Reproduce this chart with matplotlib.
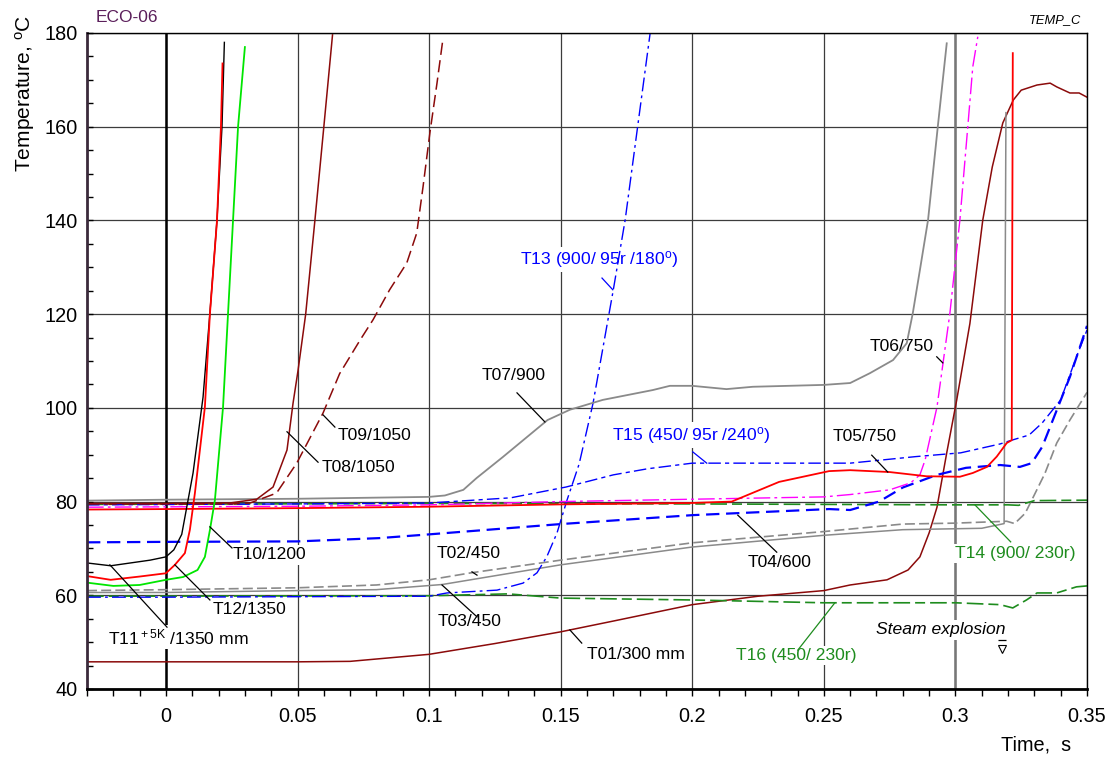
import matplotlib
matplotlib.use("Agg")
import matplotlib.pyplot as plt
from matplotlib import font_manager
from matplotlib.ticker import MultipleLocator, FuncFormatter

# ---------------------------------------------------------------- fonts
_names = {f.name for f in font_manager.fontManager.ttflist}
if "Liberation Sans Narrow" in _names:
    NARROW, K = "Liberation Sans Narrow", 1.0
else:
    NARROW, K = "Liberation Sans", 0.84
REG = "Liberation Sans" if "Liberation Sans" in _names else "DejaVu Sans"

plt.rcParams["font.family"] = [NARROW, "DejaVu Sans"]
plt.rcParams["mathtext.fontset"] = "custom"
plt.rcParams["mathtext.rm"] = NARROW
plt.rcParams["mathtext.it"] = NARROW + ":italic"

# ---------------------------------------------------------------- data (time s, temperature °C)
T01_t = [-0.03, 0.0, 0.05, 0.07, 0.1, 0.125, 0.15, 0.17, 0.2, 0.225, 0.25, 0.26, 0.274, 0.282,
         0.2865, 0.29, 0.293, 0.2967, 0.3005, 0.3055, 0.3104, 0.314, 0.318, 0.322, 0.325, 0.331,
         0.336, 0.3385, 0.3435, 0.347, 0.35]
T01_v = [45.8, 45.8, 45.8, 45.9, 47.4, 49.7, 52.2, 54.5, 58.0, 59.8, 61.0, 62.2, 63.3, 65.4,
         68.2, 73.3, 78.8, 90.4, 101.7, 118.0, 140.1, 151.4, 160.8, 165.7, 167.8, 168.9,
         169.3, 168.5, 167.2, 167.2, 166.3]

T02_t = [-0.03, 0.0, 0.05, 0.08, 0.1, 0.116, 0.15, 0.2, 0.25, 0.28, 0.3, 0.3195, 0.3225,
         0.3265, 0.329, 0.334, 0.3385, 0.3435, 0.35]
T02_v = [61.0, 61.2, 61.6, 62.2, 63.3, 64.8, 67.5, 71.2, 73.6, 75.2, 75.4, 75.8, 75.3,
         77.5, 80.3, 86.0, 92.5, 97.4, 103.3]

T03_t = [-0.03, 0.0, 0.05, 0.08, 0.105, 0.15, 0.2, 0.25, 0.28, 0.31, 0.3185, 0.3192]
T03_v = [60.6, 60.6, 61.0, 61.2, 62.3, 66.5, 70.3, 72.8, 74.0, 74.3, 75.3, 163.0]

T04_t = [-0.03, 0.0, 0.05, 0.081, 0.1, 0.15, 0.2, 0.252, 0.26, 0.271, 0.28, 0.293, 0.304,
         0.317, 0.3245, 0.329, 0.333, 0.3385, 0.3435, 0.35]
T04_v = [71.3, 71.4, 71.5, 72.2, 73.0, 75.2, 77.1, 78.4, 78.2, 80.0, 83.0, 85.7, 87.2,
         87.8, 87.4, 88.2, 91.7, 99.5, 106.6, 117.5]

T05_t = [-0.03, 0.0, 0.05, 0.1, 0.15, 0.2, 0.215, 0.233, 0.252, 0.26, 0.275, 0.289, 0.3017,
         0.3066, 0.312, 0.3157, 0.3195, 0.3214, 0.3218]
T05_v = [78.3, 78.4, 78.6, 78.9, 79.4, 79.7, 80.0, 84.2, 86.5, 86.7, 86.3, 85.4, 85.3,
         86.1, 87.4, 89.6, 92.5, 93.1, 175.7]

T06_t = [-0.03, 0.05, 0.1, 0.15, 0.2, 0.25, 0.26, 0.275, 0.283, 0.2865, 0.2885, 0.293,
         0.2979, 0.3017, 0.3047, 0.3066, 0.3085]
T06_v = [78.8, 79.0, 79.3, 80.0, 80.5, 81.0, 81.5, 82.5, 84.0, 85.7, 88.9, 100.2,
         120.2, 140.1, 160.0, 172.8, 179.2]

T07_t = [-0.03, 0.0, 0.05, 0.1, 0.106, 0.113, 0.118, 0.128, 0.145, 0.1535, 0.166, 0.185,
         0.1915, 0.2, 0.213, 0.223, 0.25, 0.26, 0.2675, 0.2763, 0.2815, 0.2838, 0.2865,
         0.2896, 0.2933, 0.2967]
T07_v = [80.2, 80.4, 80.6, 81.0, 81.3, 82.5, 85.0, 89.5, 97.4, 99.6, 101.7, 103.8,
         104.7, 104.7, 104.0, 104.5, 104.9, 105.3, 107.4, 110.2, 113.8, 120.2, 129.4,
         140.1, 160.0, 177.8]

T08_t = [-0.03, 0.0, 0.0243, 0.0345, 0.0407, 0.046, 0.0483, 0.0502, 0.0531, 0.0566, 0.06, 0.0633]
T08_v = [79.6, 79.6, 79.7, 80.5, 83.1, 91.0, 101.0, 108.0, 120.0, 140.0, 160.0, 179.6]

T09_t = [-0.03, 0.0, 0.025, 0.032, 0.042, 0.0497, 0.0597, 0.066, 0.0737, 0.0787, 0.085,
         0.0915, 0.0953, 0.0977, 0.1003, 0.103, 0.1052]
T09_v = [79.5, 79.5, 79.5, 79.7, 81.8, 88.2, 98.9, 107.3, 114.4, 118.8, 125.2,
         130.9, 137.3, 147.2, 158.7, 169.3, 178.5]

T10_t = [-0.03, -0.02, -0.01, 0.0, 0.0065, 0.012, 0.0148, 0.0167, 0.0186, 0.0217, 0.0236,
         0.0255, 0.0274, 0.030]
T10_v = [62.7, 62.0, 62.2, 63.3, 63.9, 65.4, 68.2, 73.9, 80.3, 100.2, 120.2,
         140.1, 160.0, 177.0]

T11_t = [-0.03, -0.021, -0.006, 0.0, 0.003, 0.006, 0.0103, 0.0141, 0.0167, 0.0194, 0.0213, 0.0222]
T11_v = [66.9, 66.3, 67.5, 68.2, 69.7, 73.0, 86.1, 102.3, 120.2, 140.1, 160.0, 178.0]

T12_t = [-0.03, -0.021, -0.01, 0.0, 0.0034, 0.0072, 0.0091, 0.011, 0.0148, 0.0167, 0.0194,
         0.0209, 0.0215]
T12_v = [64.1, 63.3, 64.0, 64.7, 66.5, 69.0, 74.0, 81.8, 100.2, 120.0, 140.0, 160.0, 173.5]

T13_t = [-0.03, 0.0, 0.05, 0.1, 0.1068, 0.1258, 0.1357, 0.141, 0.1447, 0.1486, 0.1524,
         0.157, 0.1623, 0.17, 0.1745, 0.184]
T13_v = [59.6, 59.6, 59.7, 59.8, 60.5, 61.1, 62.6, 64.8, 68.2, 73.3, 80.3,
         88.0, 101.0, 125.2, 140.1, 180.0]

T14_t = [-0.03, 0.1, 0.2, 0.3, 0.32, 0.324, 0.33, 0.35]
T14_v = [79.4, 79.6, 79.5, 79.3, 79.3, 79.2, 80.2, 80.3]

T15_t = [-0.03, 0.05, 0.1, 0.131, 0.152, 0.17, 0.183, 0.2, 0.26, 0.285, 0.302, 0.317,
         0.3214, 0.328, 0.333, 0.34, 0.346, 0.35]
T15_v = [79.3, 79.5, 79.7, 80.8, 83.1, 85.7, 87.0, 88.2, 88.2, 89.6, 90.4, 92.3,
         93.1, 94.2, 96.8, 101.7, 110.9, 116.6]

T16_t = [-0.03, 0.1, 0.13, 0.15, 0.2, 0.25, 0.3, 0.317, 0.3218, 0.327, 0.331, 0.3385, 0.346, 0.35]
T16_v = [59.8, 59.9, 60.3, 59.4, 59.0, 58.4, 58.4, 58.0, 57.3, 59.0, 60.5, 60.5, 61.8, 62.0]

X_TICKS = [0, 0.05, 0.1, 0.15, 0.2, 0.25, 0.3, 0.35]
Y_TICKS = [40, 60, 80, 100, 120, 140, 160, 180]

# ---------------------------------------------------------------- colours
MAROON = "#8b0a0a"
GRAY = "#8a8a8a"
BLUE = "#0000ff"
RED = "#ff0000"
MAGENTA = "#ff00ff"
LIME = "#00e600"
DKGREEN = "#1e8c1e"

# ---------------------------------------------------------------- figure
fig = plt.figure(figsize=(11.14, 7.57), dpi=100)
ax = fig.add_axes([87 / 1114, 1 - 689 / 757, 1000 / 1114, 656 / 757])
ax.set_xlim(-0.03, 0.35)
ax.set_ylim(40, 180)
ax.set_axisbelow(True)

ax.xaxis.set_major_locator(MultipleLocator(0.05))
ax.xaxis.set_minor_locator(MultipleLocator(0.01))
ax.yaxis.set_major_locator(MultipleLocator(20))
ax.yaxis.set_minor_locator(MultipleLocator(5))
ax.set_xticks(X_TICKS)
ax.set_yticks(Y_TICKS)
ax.xaxis.set_major_formatter(FuncFormatter(lambda v, p: "%g" % round(v, 3)))
ax.tick_params(axis="x", which="both", direction="out", length=5, width=1,
               pad=8, labelsize=17 * K)
ax.tick_params(axis="y", which="both", direction="in", length=4, width=1,
               pad=7, labelsize=17 * K)

ax.grid(True, which="major", color="#3c3c3c", lw=0.9)
ax.axvline(0.0, color="black", lw=1.8, zorder=0.6)
ax.axvline(0.3, color="#777777", lw=1.8, zorder=0.6)

for side in ("top", "right"):
    ax.spines[side].set_linewidth(1.0)
    ax.spines[side].set_color("black")
ax.spines["bottom"].set_linewidth(2.0)
ax.spines["left"].set_linewidth(2.0)
ax.spines["left"].set_color("#3b2a3b")

# ---------------------------------------------------------------- curves
def curve(t, v, color, lw=1.0, dashes=None, z=2):
    line, = ax.plot(t, v, color=color, lw=lw, zorder=z, solid_joinstyle="round")
    if dashes:
        line.set_dashes(dashes)
    return line

curve(T01_t, T01_v, MAROON, 1.1)
curve(T03_t, T03_v, GRAY, 1.1)
curve(T02_t, T02_v, GRAY, 1.2, (6, 2.5))
curve(T16_t, T16_v, DKGREEN, 1.2, (10, 3, 6, 3))
curve(T14_t, T14_v, DKGREEN, 1.2, (10, 3, 6, 3))
curve(T13_t, T13_v, BLUE, 1.0, (10, 3, 2, 3))
curve(T15_t, T15_v, BLUE, 1.0, (9, 3, 3, 3))
curve(T04_t, T04_v, BLUE, 1.6, (6, 3))
curve(T07_t, T07_v, GRAY, 1.3)
curve(T06_t, T06_v, MAGENTA, 1.0, (12, 3, 2, 3))
curve(T05_t, T05_v, RED, 1.3)
curve(T08_t, T08_v, MAROON, 1.1)
curve(T09_t, T09_v, MAROON, 1.1, (8, 3.5))
curve(T10_t, T10_v, LIME, 1.3)
curve(T11_t, T11_v, "black", 1.0)
curve(T12_t, T12_v, RED, 1.3)

# ---------------------------------------------------------------- labels with leader lines
def label(text, xy_text, p0, p1, color="black", lcolor="black", size=15):
    ax.plot([p0[0], p1[0]], [p0[1], p1[1]], color=lcolor, lw=0.9, zorder=2.5)
    ax.text(xy_text[0], xy_text[1], text, color=color, fontsize=size * K,
            ha="left", va="center", zorder=1,
            bbox=dict(boxstyle="square,pad=0.12", fc="white", ec="none"))

label(r"T11$^{\rm +5K}$ /1350 mm", (-0.0222, 51.1), (-0.0213, 66.5), (0.0004, 53.2))
label("T12/1350", (0.0179, 56.9), (0.0034, 66.5), (0.0167, 59.0))
label("T10/1200", (0.0255, 68.6), (0.0167, 74.6), (0.0251, 70.1))
label("T08/1050", (0.0593, 87.2), (0.0460, 94.9), (0.0578, 88.4))
label("T09/1050", (0.0653, 94.0), (0.0597, 98.5), (0.0642, 95.9))
label("T07/900", (0.1200, 107.0), (0.1334, 103.2), (0.1440, 97.0))
label(r"T13 (900/ 95r /180$^{\rm o}$)", (0.1345, 131.6), (0.1657, 127.7), (0.1698, 125.2),
      color=BLUE, lcolor=BLUE)
label(r"T15 (450/ 95r /240$^{\rm o}$)", (0.1695, 94.2), (0.2002, 90.6), (0.2055, 88.2),
      color=BLUE, lcolor=BLUE)
label("T02/450", (0.1030, 69.0), (0.1163, 65.0), (0.1182, 64.3))
label("T03/450", (0.1033, 54.3), (0.1049, 62.2), (0.1182, 55.4))
label("T01/300 mm", (0.1600, 47.3), (0.1535, 52.6), (0.1580, 49.8))
label("T04/600", (0.2211, 66.9), (0.2173, 77.1), (0.2321, 69.2))
label("T05/750", (0.2534, 93.8), (0.2682, 89.9), (0.2743, 86.3))
label("T06/750", (0.2675, 113.2), (0.2929, 110.9), (0.2952, 109.6))
label("T14 (900/ 230r)", (0.2998, 69.0), (0.3074, 79.3), (0.3210, 71.4),
      color=DKGREEN, lcolor=DKGREEN)
label("T16 (450/ 230r)", (0.2166, 47.1), (0.2401, 48.3), (0.2542, 58.4),
      color=DKGREEN, lcolor=DKGREEN)

ax.text(0.2698, 52.6, "Steam explosion", fontsize=15 * K, style="italic",
        ha="left", va="center", zorder=1,
        bbox=dict(boxstyle="square,pad=0.12", fc="white", ec="none"))
ax.plot([0.3178], [48.5], marker="v", ms=6, mfc="white", mec="black", mew=0.8, zorder=3)
ax.plot([0.3178], [50.4], marker="_", ms=6, color="black", mew=0.9, zorder=3)

# ---------------------------------------------------------------- titles
fig.text(25 / 1114, 1 - 93 / 757, r"Temperature, $^{\rm o}$C", rotation=90,
         fontsize=18 * K, ha="center", va="center")
fig.text(1071 / 1114, 1 - 745 / 757, "Time,  s", fontsize=17 * K, ha="right", va="center")
fig.text(96 / 1114, 1 - 18 / 757, "ECO-06", fontsize=12.5, family=REG,
         color="#5b1f5b", ha="left", va="center")
fig.text(1081 / 1114, 1 - 20 / 757, "TEMP_C", fontsize=11 * K, style="italic",
         ha="right", va="center")

fig.savefig("out.png", dpi=100)
